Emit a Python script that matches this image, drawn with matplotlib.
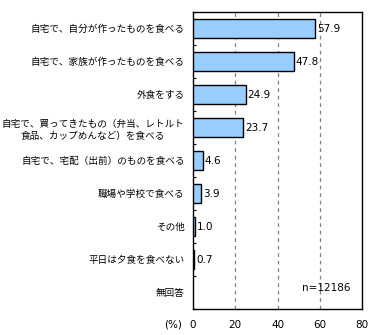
import numpy as np
import matplotlib
matplotlib.use("Agg")
import matplotlib.pyplot as plt

plt.rcParams['font.family'] = ['Noto Sans CJK JP', 'DejaVu Sans']

labels = [
    "自宅で、自分が作ったものを食べる",
    "自宅で、家族が作ったものを食べる",
    "外食をする",
    "自宅で、買ってきたもの（弁当、レトルト\n食品、カップめんなど）を食べる",
    "自宅で、宅配（出前）のものを食べる",
    "職場や学校で食べる",
    "その他",
    "平日は夕食を食べない",
    "無回答",
]
values = [57.9, 47.8, 24.9, 23.7, 4.6, 3.9, 1.0, 0.7, None]
xticks = [0, 20, 40, 60, 80]

fig = plt.figure(figsize=(3.7, 3.35), dpi=100)
ax = fig.add_axes([0.5216, 0.0776, 0.4568, 0.8864])

ypos = np.arange(len(labels))
for y, v in zip(ypos, values):
    if v is None:
        continue
    ax.barh(y, v, height=0.6, color="#99ccff", edgecolor="black", linewidth=1.0, zorder=3)
    ax.text(v + 0.8, y, f"{v:.1f}", va="center", ha="left", fontsize=7.5,
            family="DejaVu Sans", zorder=4)

ax.set_xlim(0, 80)
ax.set_ylim(len(labels) - 0.5, -0.5)
ax.set_xticks(xticks)
ax.set_xticklabels([str(t) for t in xticks], fontsize=7.5, family="DejaVu Sans")
ax.tick_params(axis="x", length=0, pad=8)
for t in xticks[1:-1]:
    ax.axvline(t, color="#808080", linestyle=(0, (3, 3)), linewidth=0.9, zorder=1)

ax.set_yticks(ypos)
ax.set_yticklabels(labels, fontsize=6.9, multialignment="center", linespacing=1.4)
ax.tick_params(axis="y", length=0, pad=6)
ax.set_yticks(np.arange(len(labels) + 1) - 0.5, minor=True)
ax.tick_params(axis="y", which="minor", direction="in", length=2, width=0.8)

for s in ax.spines.values():
    s.set_linewidth(1.0)

ax.text(0.79, 0.07, "n=12186", transform=ax.transAxes, ha="center", va="center",
        fontsize=7.5, family="DejaVu Sans")
fig.text(0.492, 0.03, "(%)", ha="right", va="center", fontsize=7.5, family="DejaVu Sans")

fig.savefig("out.png", dpi=100)
